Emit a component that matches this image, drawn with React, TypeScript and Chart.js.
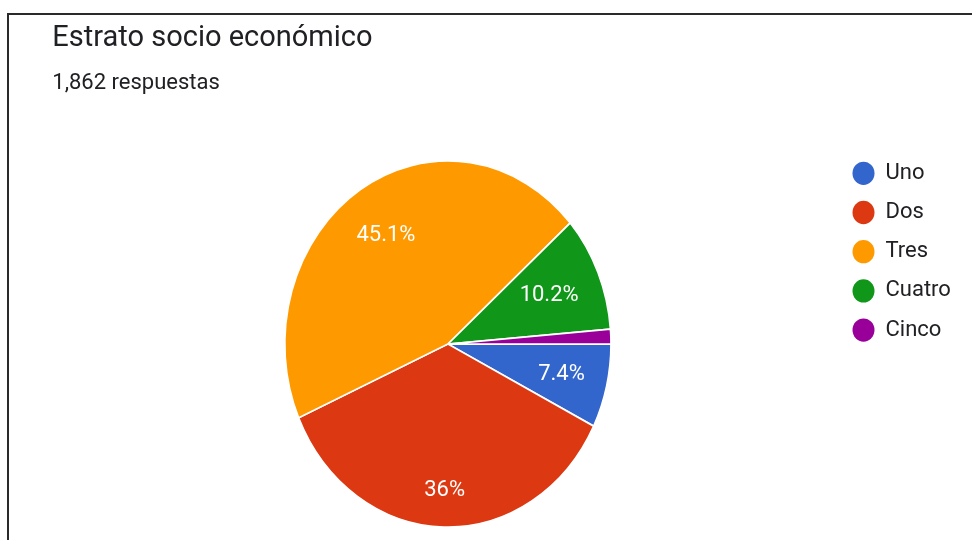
import React, { useEffect, useRef } from "react";
import { Chart, registerables, layouts } from "chart.js";

Chart.register(...registerables);

// ---- data ----
const TITLE = "Estrato socio económico";
const SUBTITLE = "1,862 respuestas";
const CATEGORIES = ["Uno", "Dos", "Tres", "Cuatro", "Cinco"];
const PERCENTS = [7.4, 36, 45.1, 10.2, 1.3];
const COLORS = ["#3366cc", "#dc3912", "#ff9900", "#109618", "#990099"];

// ---- presentation ----
const LABEL_RADIUS = [0.716, 0.8, 0.706, 0.675, 0.7];
const MIN_LABEL_PCT = 5;
const PIE_STRETCH_Y = 1.123;
const PIE_LEFT_GAP = 8.2;
const TEXT_COLOR = "#202124";

const spacerPlugin = {
  id: "leftSpacer",
  beforeInit(chart: any) {
    const box: any = {
      position: "left",
      weight: 0,
      fullSize: false,
      options: { display: true, stackWeight: 1 },
      width: PIE_LEFT_GAP,
      height: 0,
      top: 0,
      left: 0,
      right: 0,
      bottom: 0,
      isHorizontal: () => false,
      update(_w: number, h: number) {
        this.width = PIE_LEFT_GAP;
        this.height = h;
      },
      draw() {},
    };
    layouts.addBox(chart, box);
  },
};

const ellipsePlugin = {
  id: "ellipsePie",
  beforeDatasetsDraw(chart: any) {
    const arc = chart.getDatasetMeta(0).data[0];
    const ctx = chart.ctx;
    ctx.save();
    if (!arc) return;
    ctx.translate(arc.x, arc.y);
    ctx.scale(1, PIE_STRETCH_Y);
    ctx.translate(-arc.x, -arc.y);
  },
  afterDatasetsDraw(chart: any) {
    const ctx = chart.ctx;
    ctx.restore();
    const meta = chart.getDatasetMeta(0);
    ctx.save();
    ctx.font = "22px Roboto";
    ctx.fillStyle = "#ffffff";
    ctx.textAlign = "center";
    ctx.textBaseline = "middle";
    meta.data.forEach((arc: any, i: number) => {
      const v = PERCENTS[i];
      if (v < MIN_LABEL_PCT) return;
      const mid = (arc.startAngle + arc.endAngle) / 2;
      const r = arc.outerRadius * LABEL_RADIUS[i];
      const x = arc.x + Math.cos(mid) * r;
      const y = arc.y + Math.sin(mid) * r * PIE_STRETCH_Y;
      ctx.fillText(`${v}%`, x, y);
    });
    ctx.restore();
  },
};

export default function App() {
  const ref = useRef<HTMLCanvasElement | null>(null);

  useEffect(() => {
    if (!ref.current) return;
    Chart.defaults.font.family = "Roboto";
    const chart = new Chart(ref.current, {
      type: "pie",
      data: {
        labels: CATEGORIES,
        datasets: [
          {
            data: PERCENTS,
            backgroundColor: COLORS,
            borderColor: "#ffffff",
            borderWidth: 1.5,
            radius: 163,
            clip: false,
          } as any,
        ],
      },
      options: {
        animation: false,
        responsive: false,
        events: [],
        rotation: 90,
        layout: { padding: { left: 52.3, right: 16.7, top: 0, bottom: 0 } },
        plugins: {
          tooltip: { enabled: false },
          title: {
            display: true,
            text: TITLE,
            align: "start",
            color: TEXT_COLOR,
            font: { family: "Roboto", size: 29, weight: "normal", lineHeight: 1.2 },
            padding: { top: 21, bottom: 0 },
          },
          subtitle: {
            display: true,
            text: SUBTITLE,
            align: "start",
            color: TEXT_COLOR,
            font: { family: "Roboto", size: 22, weight: "normal", lineHeight: 1.2 },
            padding: { top: 14.5, bottom: 48.4 },
          },
          legend: {
            display: true,
            position: "right",
            align: "start",
            fullSize: false,
            maxWidth: 120,
            labels: {
              usePointStyle: true,
              pointStyle: "circle",
              pointStyleWidth: 22,
              boxHeight: 16.5,
              padding: 17.2,
              color: TEXT_COLOR,
              font: { family: "Roboto", size: 22 },
              generateLabels: () =>
                CATEGORIES.map((text, i) => ({
                  text,
                  fillStyle: COLORS[i],
                  strokeStyle: COLORS[i],
                  lineWidth: 0,
                  pointStyle: "circle",
                  fontColor: TEXT_COLOR,
                  hidden: false,
                  index: i,
                  datasetIndex: 0,
                })),
            },
          },
        } as any,
      },
      plugins: [spacerPlugin as any, ellipsePlugin as any],
    });
    return () => chart.destroy();
  }, []);

  return (
    <div
      style={{
        position: "fixed",
        left: 0,
        top: 0,
        width: 972,
        height: 540,
        overflow: "hidden",
        background: "#ffffff",
      }}
    >
      <div
        style={{
          position: "absolute",
          left: 7,
          top: 13,
          width: 1000,
          height: 600,
          borderTop: "2px solid #2a2a2a",
          borderLeft: "2px solid #2a2a2a",
        }}
      />
      <canvas
        ref={ref}
        width={972}
        height={543}
        style={{ position: "absolute", left: 0, top: 0, width: 972, height: 543 }}
      />
    </div>
  );
}
